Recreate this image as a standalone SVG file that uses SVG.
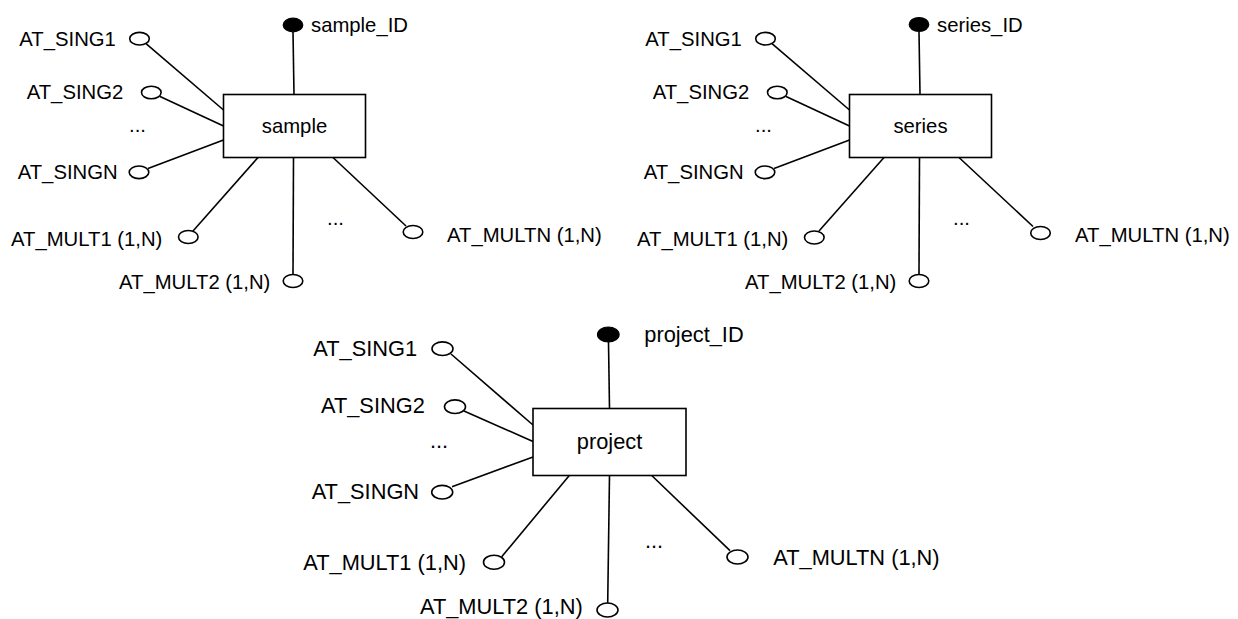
<svg xmlns="http://www.w3.org/2000/svg" width="1238" height="619" viewBox="0 0 1238 619">
  <style>
    .bg { fill: #ffffff; }
    .entity { fill: #ffffff; stroke: #000000; stroke-width: 1.6; }
    .attr { fill: #ffffff; stroke: #000000; stroke-width: 1.6; }
    .key { fill: #000000; stroke: #000000; stroke-width: 1.2; }
    .link { stroke: #000000; stroke-width: 1.6; fill: none; }
    text { font-family: "Liberation Sans", Arial, Helvetica, sans-serif; fill: #000000; }
    .s { font-size: 20.3px; }
    .p { font-size: 21.8px; }
    .mid { text-anchor: middle; }
  </style>
  <rect class="bg" x="0" y="0" width="1238" height="619"/>

  <!-- connectors -->
  <g id="connectors">
    <!-- sample -->
    <line class="link" x1="293" y1="32" x2="294" y2="94.5"/>
    <line class="link" x1="146" y1="43.7" x2="223.5" y2="110"/>
    <line class="link" x1="159.5" y1="96.3" x2="223.5" y2="126"/>
    <line class="link" x1="148" y1="168.5" x2="223.5" y2="140"/>
    <line class="link" x1="193" y1="231" x2="258" y2="157.5"/>
    <line class="link" x1="293" y1="274" x2="293.5" y2="157.5"/>
    <line class="link" x1="406" y1="226" x2="333" y2="157.5"/>
    <!-- series -->
    <line class="link" x1="919" y1="32" x2="920" y2="94.5"/>
    <line class="link" x1="772" y1="43.7" x2="849.5" y2="110"/>
    <line class="link" x1="785.5" y1="96.3" x2="849.5" y2="126"/>
    <line class="link" x1="774" y1="168.5" x2="849.5" y2="140"/>
    <line class="link" x1="819" y1="231" x2="884" y2="157.5"/>
    <line class="link" x1="919" y1="274" x2="919.5" y2="157.5"/>
    <line class="link" x1="1033" y1="226.5" x2="959" y2="157.5"/>
    <!-- project -->
    <line class="link" x1="608.5" y1="342" x2="609.5" y2="408.5"/>
    <line class="link" x1="451" y1="354" x2="533" y2="425"/>
    <line class="link" x1="464" y1="411" x2="533" y2="441.5"/>
    <line class="link" x1="452" y1="486.7" x2="533" y2="457"/>
    <line class="link" x1="501.7" y1="556.7" x2="569.3" y2="475.5"/>
    <line class="link" x1="607.7" y1="603" x2="609.5" y2="475.5"/>
    <line class="link" x1="730" y1="550.7" x2="651.7" y2="475.5"/>
  </g>

  <!-- sample entity and its attributes -->
  <g id="sample">
    <rect class="entity" x="223.5" y="94.5" width="142" height="63"/>
    <text class="s mid" x="294.5" y="133">sample</text>
  </g>
  <g id="sample_ID">
    <ellipse class="key" cx="293" cy="25" rx="9.8" ry="6.8"/>
    <text class="s" x="311" y="32">sample_ID</text>
  </g>
  <g id="sample_AT_SING1">
    <ellipse class="attr" cx="139.5" cy="38.7" rx="9.8" ry="6.3"/>
    <text class="s" x="19.3" y="45.5">AT_SING1</text>
  </g>
  <g id="sample_AT_SING2">
    <ellipse class="attr" cx="151.3" cy="92.5" rx="9.8" ry="6.3"/>
    <text class="s" x="26.7" y="99">AT_SING2</text>
  </g>
  <g id="sample_dots_sing">
    <text class="s" x="129" y="132">...</text>
  </g>
  <g id="sample_AT_SINGN">
    <ellipse class="attr" cx="139" cy="172.3" rx="9.8" ry="6.3"/>
    <text class="s" x="17.7" y="179">AT_SINGN</text>
  </g>
  <g id="sample_AT_MULT1">
    <ellipse class="attr" cx="188.3" cy="237" rx="9.8" ry="6.5"/>
    <text class="s" x="11" y="245.5">AT_MULT1 (1,N)</text>
  </g>
  <g id="sample_AT_MULT2">
    <ellipse class="attr" cx="293" cy="281" rx="9.8" ry="6.5"/>
    <text class="s" x="119" y="288.5">AT_MULT2 (1,N)</text>
  </g>
  <g id="sample_dots_mult">
    <text class="s" x="327" y="225">...</text>
  </g>
  <g id="sample_AT_MULTN">
    <ellipse class="attr" cx="413" cy="232" rx="9.8" ry="6.5"/>
    <text class="s" x="447" y="241.5">AT_MULTN (1,N)</text>
  </g>

  <!-- series entity and its attributes -->
  <g id="series">
    <rect class="entity" x="849.5" y="94.5" width="142" height="63"/>
    <text class="s mid" x="920.5" y="133">series</text>
  </g>
  <g id="series_ID">
    <ellipse class="key" cx="919" cy="24.5" rx="9.8" ry="7"/>
    <text class="s" x="937" y="32">series_ID</text>
  </g>
  <g id="series_AT_SING1">
    <ellipse class="attr" cx="765.5" cy="38.7" rx="9.8" ry="6.3"/>
    <text class="s" x="645.3" y="45.5">AT_SING1</text>
  </g>
  <g id="series_AT_SING2">
    <ellipse class="attr" cx="777.3" cy="92.5" rx="9.8" ry="6.3"/>
    <text class="s" x="652.7" y="99">AT_SING2</text>
  </g>
  <g id="series_dots_sing">
    <text class="s" x="755" y="132">...</text>
  </g>
  <g id="series_AT_SINGN">
    <ellipse class="attr" cx="765" cy="172.3" rx="9.8" ry="6.3"/>
    <text class="s" x="643.7" y="179">AT_SINGN</text>
  </g>
  <g id="series_AT_MULT1">
    <ellipse class="attr" cx="814.3" cy="237.5" rx="9.8" ry="6.5"/>
    <text class="s" x="637" y="245.5">AT_MULT1 (1,N)</text>
  </g>
  <g id="series_AT_MULT2">
    <ellipse class="attr" cx="919" cy="281" rx="9.8" ry="6.5"/>
    <text class="s" x="745" y="288.5">AT_MULT2 (1,N)</text>
  </g>
  <g id="series_dots_mult">
    <text class="s" x="953" y="225">...</text>
  </g>
  <g id="series_AT_MULTN">
    <ellipse class="attr" cx="1040.5" cy="233" rx="9.8" ry="6.5"/>
    <text class="s" x="1075" y="241.5">AT_MULTN (1,N)</text>
  </g>

  <!-- project entity and its attributes -->
  <g id="project">
    <rect class="entity" x="533" y="408.5" width="153" height="67"/>
    <text class="p mid" x="609.5" y="448.5">project</text>
  </g>
  <g id="project_ID">
    <ellipse class="key" cx="608.3" cy="334.5" rx="10.8" ry="7.5"/>
    <text class="p" x="644.3" y="342.3">project_ID</text>
  </g>
  <g id="project_AT_SING1">
    <ellipse class="attr" cx="442.5" cy="348.7" rx="10.5" ry="6.8"/>
    <text class="p" x="313.3" y="355.5">AT_SING1</text>
  </g>
  <g id="project_AT_SING2">
    <ellipse class="attr" cx="455" cy="406.7" rx="10.5" ry="6.8"/>
    <text class="p" x="321" y="412.5">AT_SING2</text>
  </g>
  <g id="project_dots_sing">
    <text class="p" x="430" y="448">...</text>
  </g>
  <g id="project_AT_SINGN">
    <ellipse class="attr" cx="442.2" cy="492.2" rx="10.5" ry="6.8"/>
    <text class="p" x="311.7" y="498.5">AT_SINGN</text>
  </g>
  <g id="project_AT_MULT1">
    <ellipse class="attr" cx="494" cy="562.2" rx="10.5" ry="7"/>
    <text class="p" x="303.3" y="570">AT_MULT1 (1,N)</text>
  </g>
  <g id="project_AT_MULT2">
    <ellipse class="attr" cx="607.5" cy="610" rx="10.5" ry="7"/>
    <text class="p" x="420" y="613.5">AT_MULT2 (1,N)</text>
  </g>
  <g id="project_dots_mult">
    <text class="p" x="645" y="548">...</text>
  </g>
  <g id="project_AT_MULTN">
    <ellipse class="attr" cx="737.5" cy="557" rx="10.5" ry="7"/>
    <text class="p" x="773.3" y="565">AT_MULTN (1,N)</text>
  </g>
</svg>
